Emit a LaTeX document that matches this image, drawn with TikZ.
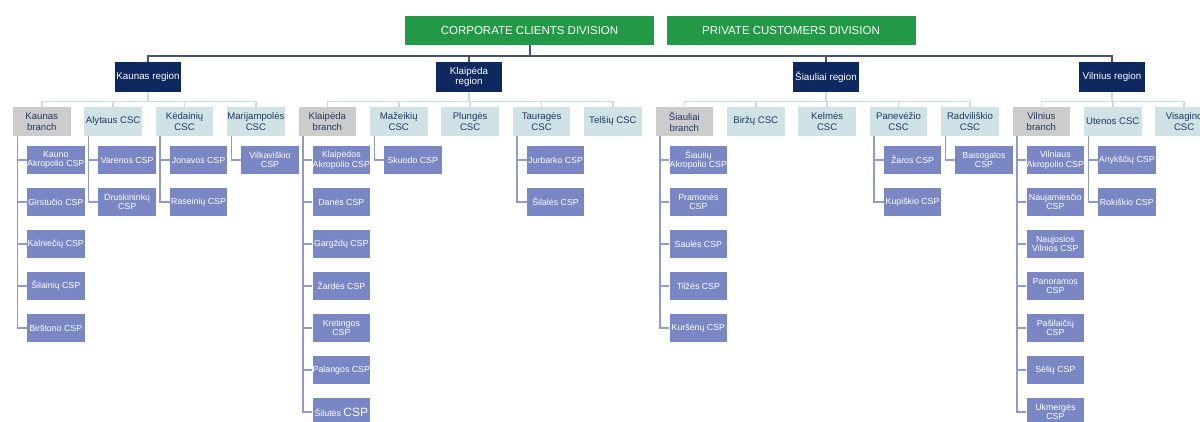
\documentclass[tikz,border=0pt]{standalone}
\usepackage{fontspec}
\setmainfont{Liberation Sans}
\definecolor{divgreen}{RGB}{33,153,71}
\definecolor{regnavy}{RGB}{14,40,96}
\definecolor{brgray}{RGB}{204,204,204}
\definecolor{csccol}{RGB}{207,226,230}
\definecolor{cspcol}{RGB}{121,135,196}
\definecolor{mainln}{RGB}{68,84,106}
\definecolor{busln}{RGB}{200,222,228}
\definecolor{childln}{RGB}{143,154,206}
\definecolor{darktxt}{RGB}{31,56,100}
\tikzset{
  divbox/.style={fill=divgreen,text=white,minimum width=249,minimum height=29,inner sep=0,font=\fontsize{11.5}{12}\selectfont},
  regbox/.style={fill=regnavy,text=white,minimum width=66,minimum height=30,inner sep=0,align=center,font=\fontsize{9.8}{10.5}\selectfont},
  brbox/.style={fill=brgray,text=darktxt,minimum width=57.5,minimum height=29,inner sep=0,align=center,font=\fontsize{9.6}{10.8}\selectfont},
  cscbox/.style={fill=csccol,text=darktxt,minimum width=57.5,minimum height=29,inner sep=0,align=center,font=\fontsize{9.6}{10.8}\selectfont},
  cspbox/.style={fill=cspcol,text=white,minimum width=57.5,minimum height=28,inner sep=0,align=center,font=\fontsize{8.8}{9.6}\selectfont},
  mainline/.style={draw=mainln,line width=2},
  busline/.style={draw=busln,line width=1.5},
  childline/.style={draw=childln,line width=1.5}
}
\begin{document}
\begin{tikzpicture}[x=1pt,y=-1pt]
\useasboundingbox (0,0) rectangle (1200,421);
\clip (0,0) rectangle (1200,421);
\fill[white] (0,0) rectangle (1200,421);
% divisions
\node[divbox] (corp) at (529.5,30.5) {CORPORATE CLIENTS DIVISION};
\node[divbox] (priv) at (791,30.5) {PRIVATE CUSTOMERS DIVISION};
% regions
\node[regbox] (kreg) at (148,77) {Kaunas region};
\node[regbox] (klreg) at (469,77) {Klaipėda\\region};
\node[regbox] (sreg) at (826,77) {Šiauliai region};
\node[regbox] (vreg) at (1112,77) {Vilnius region};
% second level
\node[brbox] (kb) at (41.75,121.5) {Kaunas\\branch};
\node[cscbox] (alc) at (113.15,121.5) {Alytaus CSC};
\node[cscbox] (kec) at (184.55,121.5) {Kėdainių\\CSC};
\node[cscbox] (mac) at (255.95,121.5) {Marijampolės\\CSC};
\node[brbox] (klb) at (327.35,121.5) {Klaipėda\\branch};
\node[cscbox] (mzc) at (398.75,121.5) {Mažeikių\\CSC};
\node[cscbox] (plc) at (470.15,121.5) {Plungės\\CSC};
\node[cscbox] (tac) at (541.55,121.5) {Tauragės\\CSC};
\node[cscbox] (tec) at (612.95,121.5) {Telšių CSC};
\node[brbox] (sib) at (684.35,121.5) {Šiauliai\\branch};
\node[cscbox] (bic) at (755.75,121.5) {Biržų CSC};
\node[cscbox] (kmc) at (827.15,121.5) {Kelmės\\CSC};
\node[cscbox] (pac) at (898.55,121.5) {Panevėžio\\CSC};
\node[cscbox] (rac) at (969.95,121.5) {Radviliškio\\CSC};
\node[brbox] (vib) at (1041.35,121.5) {Vilnius\\branch};
\node[cscbox] (utc) at (1112.75,121.5) {Utenos CSC};
\node[cscbox] (vic) at (1184.15,121.5) {Visagino\\CSC};
% CSPs - Kaunas
\node[cspbox] (k1) at (55.75,160) {Kauno\\Akropolio CSP};
\node[cspbox] (k2) at (55.75,202) {Girstučio CSP};
\node[cspbox] (k3) at (55.75,244) {Kalniečių CSP};
\node[cspbox] (k4) at (55.75,286) {Šilainių CSP};
\node[cspbox] (k5) at (55.75,328) {Birštono CSP};
\node[cspbox] (al1) at (127.15,160) {Varėnos CSP};
\node[cspbox] (al2) at (127.15,202) {Druskininkų\\CSP};
\node[cspbox] (ke1) at (198.55,160) {Jonavos CSP};
\node[cspbox] (ke2) at (198.55,202) {Raseinių CSP};
\node[cspbox] (ma1) at (269.95,160) {Vilkaviškio\\CSP};
% Klaipeda
\node[cspbox] (kl1) at (341.35,160) {Klaipėdos\\Akropolio CSP};
\node[cspbox] (kl2) at (341.35,202) {Danės CSP};
\node[cspbox] (kl3) at (341.35,244) {Gargždų CSP};
\node[cspbox] (kl4) at (341.35,286) {Žardės CSP};
\node[cspbox] (kl5) at (341.35,328) {Kretingos\\CSP};
\node[cspbox] (kl6) at (341.35,370) {Palangos CSP};
\node[cspbox] (kl7) at (341.35,412) {Šilutės {\fontsize{12}{12}\selectfont CSP}};
\node[cspbox] (mz1) at (412.75,160) {Skuodo CSP};
\node[cspbox] (ta1) at (555.55,160) {Jurbarko CSP};
\node[cspbox] (ta2) at (555.55,202) {Šilalės CSP};
% Siauliai
\node[cspbox] (si1) at (698.35,160) {Šiaulių\\Akropolio CSP};
\node[cspbox] (si2) at (698.35,202) {Pramonės\\CSP};
\node[cspbox] (si3) at (698.35,244) {Saulės CSP};
\node[cspbox] (si4) at (698.35,286) {Tilžės CSP};
\node[cspbox] (si5) at (698.35,328) {Kuršėnų CSP};
\node[cspbox] (pa1) at (912.55,160) {Žaros CSP};
\node[cspbox] (pa2) at (912.55,202) {Kupiškio CSP};
\node[cspbox] (ra1) at (983.95,160) {Baisogalos\\CSP};
% Vilnius
\node[cspbox] (vi1) at (1055.35,160) {Vilniaus\\Akropolio CSP};
\node[cspbox] (vi2) at (1055.35,202) {Naujamiesčio\\CSP};
\node[cspbox] (vi3) at (1055.35,244) {Naujosios\\Vilnios CSP};
\node[cspbox] (vi4) at (1055.35,286) {Panoramos\\CSP};
\node[cspbox] (vi5) at (1055.35,328) {Pašilaičių\\CSP};
\node[cspbox] (vi6) at (1055.35,370) {Sėlių CSP};
\node[cspbox] (vi7) at (1055.35,412) {Ukmergės\\CSP};
\node[cspbox] (ut1) at (1126.75,160) {Anykščių CSP};
\node[cspbox] (ut2) at (1126.75,202) {Rokiškio CSP};
% connectors
\foreach \r in {kreg,klreg,sreg,vreg}
  \draw[mainline] (corp.south) -- ++(0,11) -| (\r.north);
\foreach \r/\c in {kreg/kb,kreg/alc,kreg/kec,kreg/mac,
  klreg/klb,klreg/mzc,klreg/plc,klreg/tac,klreg/tec,
  sreg/sib,sreg/bic,sreg/kmc,sreg/pac,sreg/rac,
  vreg/vib,vreg/utc,vreg/vic}
  \draw[busline] (\r.south) -- ++(0,9.5) -| (\c.north);
\foreach \p/\c in {kb/k1,kb/k2,kb/k3,kb/k4,kb/k5,alc/al1,alc/al2,kec/ke1,kec/ke2,mac/ma1,
  klb/kl1,klb/kl2,klb/kl3,klb/kl4,klb/kl5,klb/kl6,klb/kl7,mzc/mz1,tac/ta1,tac/ta2,
  sib/si1,sib/si2,sib/si3,sib/si4,sib/si5,pac/pa1,pac/pa2,rac/ra1,
  vib/vi1,vib/vi2,vib/vi3,vib/vi4,vib/vi5,vib/vi6,vib/vi7,utc/ut1,utc/ut2}
  \draw[childline] ([xshift=4.5pt]\p.south west) |- (\c.west);
\end{tikzpicture}
\end{document}
